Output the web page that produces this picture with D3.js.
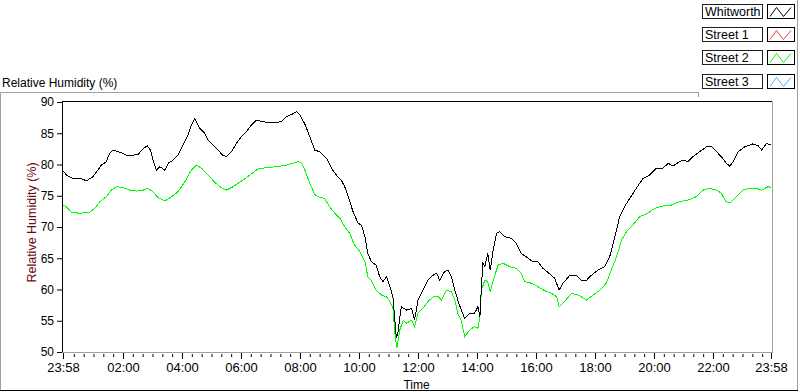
<!DOCTYPE html>
<html>
<head>
<meta charset="utf-8">
<script src="https://cdn.jsdelivr.net/npm/d3@7"></script>
<style>
  html, body { margin: 0; padding: 0; background: #fff; }
  svg { display: block; }
  text { font-family: "Liberation Sans", Arial, sans-serif; }
</style>
</head>
<body>
<svg id="chart" width="800" height="392"></svg>
<script>
// ---------------- data ----------------
const seriesNames = ["Whitworth", "Street 1", "Street 2", "Street 3"];
const seriesColors = ["#000000", "#ff4040", "#00ff00", "#40b4ff"];

// minutes after the start time (23:58)
const whitworthMin = [0,7,20,34,48,61,71,78,88,95,102,112,122,132,142,153,160,171,178,183,190,197,207,214,224,234,244,254,261,268,273,278,288,295,305,315,325,332,343,353,363,373,383,393,407,420,434,444,454,465,475,481,492,502,512,522,536,546,556,566,573,580,590,600,607,614,620,627,637,644,651,658,665,671,675,678,681,688,699,709,715,722,732,742,753,760,766,776,783,790,797,803,810,817,827,837,844,848,851,854,858,864,869,875,882,888,898,912,922,932,946,956,966,976,990,1000,1009,1017,1031,1044,1054,1065,1075,1088,1102,1112,1119,1126,1132,1142,1153,1166,1180,1193,1207,1220,1231,1241,1251,1261,1271,1281,1295,1309,1319,1329,1339,1349,1356,1363,1373,1387,1403,1414,1421,1431,1440];
const whitworthRH = [79.0,78.3,77.8,77.8,77.4,78.05,79.1,79.9,80.45,81.8,82.3,82.05,81.8,81.35,81.5,81.6,82.3,83.0,82.3,80.7,79.1,79.65,79.1,80.2,80.7,81.5,83.1,84.7,86.3,87.4,86.6,85.8,85.0,83.9,83.1,82.3,81.5,81.25,82.05,83.4,84.45,85.25,86.3,87.1,86.85,86.7,86.75,86.85,87.65,88.0,88.45,88.05,86.45,84.45,82.3,82.05,81.0,79.4,78.3,77.5,76.45,74.85,72.45,70.6,70.3,68.45,65.8,64.45,63.9,62.05,61.25,62.05,60.45,58.85,55.1,52.2,53.0,57.25,56.7,57.0,55.1,58.3,59.9,61.5,62.3,62.6,61.5,62.85,63.1,62.05,59.9,58.3,56.7,55.4,56.2,56.2,57.25,55.65,60.45,64.2,63.65,65.8,63.1,66.3,69.0,69.25,68.45,68.2,67.4,65.8,65.0,64.45,64.45,63.4,62.5,61.8,59.9,61.0,62.3,62.3,61.5,61.5,62.3,63.1,63.65,65.25,67.4,69.5,71.65,73.25,74.6,76.2,77.8,78.3,79.4,79.4,80.2,79.75,80.3,80.7,80.45,81.25,82.05,82.85,82.85,82.05,81.25,80.2,79.75,80.45,82.05,82.85,83.3,83.0,82.3,83.4,83.1];

const street1Min = [];
const street1RH = [];

const street2Min = [0,7,17,34,54,65,75,88,98,109,122,136,149,163,173,183,193,207,221,234,248,261,271,282,295,309,319,332,346,363,380,397,414,434,454,468,478,485,492,502,512,522,532,542,553,563,573,583,593,604,614,620,627,637,648,658,665,671,675,679,685,692,699,709,715,722,732,742,753,763,770,780,790,797,803,810,817,827,837,844,848,851,858,864,869,875,885,895,909,922,932,939,953,966,980,993,1004,1009,1020,1034,1048,1065,1078,1092,1105,1115,1126,1136,1146,1159,1173,1187,1204,1220,1237,1254,1271,1288,1302,1315,1329,1339,1348,1357,1370,1383,1397,1410,1421,1434,1440];
const street2RH = [73.5,73.25,72.35,72.2,72.35,73.0,74.05,74.85,75.9,76.45,76.3,75.9,75.75,75.9,76.2,75.65,74.7,74.15,74.85,75.65,77.25,79.1,79.9,79.4,78.3,77.15,76.45,75.9,76.45,77.35,78.3,79.3,79.5,79.65,79.9,80.2,80.45,80.2,79.1,77.0,75.2,74.75,74.6,73.25,72.2,71.4,70.05,69.0,67.1,66.05,64.45,62.05,61.5,59.9,59.1,58.85,58.05,57.0,53.0,50.6,53.5,55.1,54.6,55.1,54.05,56.2,57.0,58.05,58.85,58.85,58.3,59.9,59.65,58.3,56.2,55.1,52.45,53.5,54.05,53.8,55.65,59.9,61.5,61.25,59.65,61.5,63.9,64.2,63.65,63.4,62.6,61.25,61.0,60.45,59.8,59.4,58.85,57.25,58.05,59.4,59.1,58.3,59.1,59.9,61.0,63.1,65.25,67.9,69.25,70.3,71.65,72.1,73.0,73.35,73.5,74.05,74.3,74.85,75.9,76.2,75.9,75.4,74.05,73.9,74.85,75.9,76.2,76.2,75.9,76.45,76.35];

const street3Min = [];
const street3RH = [];

const yTicks = [50, 55, 60, 65, 70, 75, 80, 85, 90];
const xTickHours = [2, 4, 6, 8, 10, 12, 14, 16, 18, 20, 22];
const titleText = "Relative Humidity (%)";
const yLabelText = "Relative Humidity (%)";
const xLabelText = "Time";

// ---------------- drawing ----------------
const svg = d3.select("#chart");
const W = 800, H = 392;
const grey = "#a0a0a0";

const t0 = new Date(2000, 0, 1, 23, 58);
const t1 = new Date(t0.getTime() + 24 * 3600 * 1000);
const x = d3.scaleTime().domain([t0, t1]).range([63, 771]);
const y = d3.scaleLinear().domain([50, 90]).range([352, 102]);
const fmt = d3.timeFormat("%H:%M");

const minToDate = m => new Date(t0.getTime() + m * 60000);

svg.append("rect").attr("width", W).attr("height", H).attr("fill", "#fff");

// outer frame
svg.append("line").attr("x1", 0).attr("x2", 698).attr("y1", 92.5).attr("y2", 92.5).attr("stroke", grey);
svg.append("line").attr("x1", 0.5).attr("x2", 0.5).attr("y1", 92).attr("y2", 391).attr("stroke", grey);
svg.append("line").attr("x1", 698.5).attr("x2", 698.5).attr("y1", 92).attr("y2", 97).attr("stroke", grey);
svg.append("line").attr("x1", 797.5).attr("x2", 797.5).attr("y1", 0).attr("y2", 391).attr("stroke", grey);
svg.append("line").attr("x1", 0).attr("x2", 798).attr("y1", 390.5).attr("y2", 390.5).attr("stroke", "#000");

// title
svg.append("text").attr("x", 2).attr("y", 87).attr("font-size", 12).attr("fill", "#000").text(titleText);

// plot area
svg.append("rect").attr("x", 63).attr("y", 102).attr("width", 709).attr("height", 250).attr("fill", "#fff");
svg.append("line").attr("x1", 62).attr("x2", 773).attr("y1", 101.5).attr("y2", 101.5).attr("stroke", "#000");
svg.append("line").attr("x1", 62.5).attr("x2", 62.5).attr("y1", 101).attr("y2", 353).attr("stroke", "#000");
svg.append("line").attr("x1", 772.5).attr("x2", 772.5).attr("y1", 101).attr("y2", 353).attr("stroke", grey);
svg.append("line").attr("x1", 62).attr("x2", 773).attr("y1", 352.5).attr("y2", 352.5).attr("stroke", grey);

// series lines
const line = d3.line().x(d => x(minToDate(d[0]))).y(d => y(d[1]));
const seriesData = [
  d3.zip(whitworthMin, whitworthRH),
  d3.zip(street1Min, street1RH),
  d3.zip(street2Min, street2RH),
  d3.zip(street3Min, street3RH)
];
const plotG = svg.append("g");
[2, 1, 3, 0].forEach(i => {
  if (seriesData[i].length === 0) return;
  plotG.append("path").datum(seriesData[i])
    .attr("fill", "none").attr("stroke", seriesColors[i]).attr("stroke-width", 1)
    .attr("shape-rendering", "crispEdges")
    .attr("d", line);
});

// y axis
const yAxis = svg.append("g").attr("transform", "translate(62,0)")
  .call(d3.axisLeft(y).tickValues(yTicks).tickSize(5).tickPadding(3).tickFormat(d3.format("d")));
yAxis.select(".domain").remove();
yAxis.selectAll("text").attr("font-size", 12).attr("font-family", "Liberation Sans, Arial, sans-serif").attr("fill", "#000");
yAxis.selectAll("line").attr("stroke", "#000");

// x axis: minor and major ticks
const majorTicks = [t0].concat(xTickHours.map(h => new Date(2000, 0, 2, h, 0))).concat([t1]);
const minorTicks = d3.timeMinute.every(20).range(new Date(2000, 0, 2, 0, 0), t1)
  .filter(d => d.getMinutes() !== 0 || d.getHours() % 2 !== 0);
const xMinor = svg.append("g").attr("transform", "translate(0,354)")
  .call(d3.axisBottom(x).tickValues(minorTicks).tickSize(3).tickFormat(""));
xMinor.select(".domain").remove();
xMinor.selectAll("line").attr("stroke", "#000");

const xAxis = svg.append("g").attr("transform", "translate(0,353)")
  .call(d3.axisBottom(x).tickValues(majorTicks).tickSize(6).tickFormat(fmt));
xAxis.select(".domain").remove();
xAxis.selectAll("line").attr("stroke", "#000");
xAxis.selectAll("text").attr("y", 18.5).attr("dy", null)
  .attr("font-size", 13).attr("font-family", "Liberation Sans Narrow, Liberation Sans, Arial, sans-serif").attr("fill", "#000");

// axis labels
svg.append("text").attr("x", 416.5).attr("y", 389).attr("text-anchor", "middle")
  .attr("font-size", 12).attr("fill", "#000").text(xLabelText);
svg.append("text").attr("transform", "translate(35.5,222.5) rotate(-90)").attr("text-anchor", "middle")
  .attr("font-size", 12.5).attr("fill", "#6a0a0a").text(yLabelText);

// legend
const legend = svg.append("g");
seriesNames.forEach((name, i) => {
  const top = 4.5 + Math.round(i * 23.2);
  legend.append("rect").attr("x", 702.5).attr("y", top).attr("width", 60).attr("height", 14)
    .attr("fill", "#fff").attr("stroke", "#202020");
  legend.append("text").attr("x", 705).attr("y", top + 11.5).attr("font-size", 12.5).attr("fill", "#000").text(name);
  legend.append("rect").attr("x", 767.5).attr("y", top).attr("width", 27).attr("height", 14)
    .attr("fill", "#fff").attr("stroke", "#000");
  const zz = [[770, top + 12], [776.5, top + 3], [783.5, top + 12], [791, top + 3]];
  legend.append("path").attr("d", d3.line()(zz)).attr("fill", "none")
    .attr("stroke", seriesColors[i]).attr("stroke-width", 1);
});
</script>
</body>
</html>
